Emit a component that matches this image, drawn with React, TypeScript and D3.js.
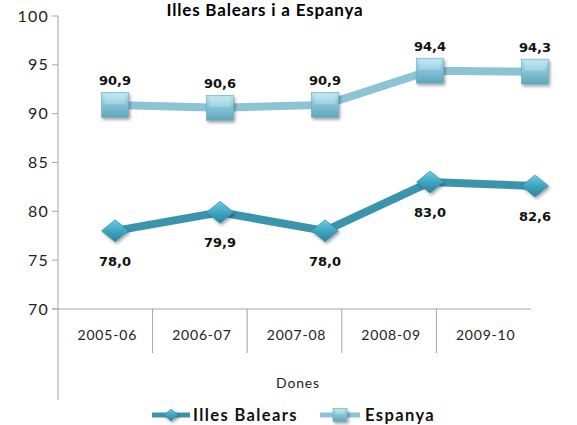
import React from "react";
import * as d3 from "d3";

const categories = ["2005-06", "2006-07", "2007-08", "2008-09", "2009-10"];
const illesBalears = [78.0, 79.9, 78.0, 83.0, 82.6];
const espanya = [90.9, 90.6, 90.9, 94.4, 94.3];
const yTicks = [70, 75, 80, 85, 90, 95, 100];
const title = "Illes Balears i a Espanya";
const xTitle = "Dones";
const seriesNames = ["Illes Balears", "Espanya"];

const W = 577;
const H = 425;
const AX = "#a6a6a6";

const fmt = (v: number) => v.toFixed(1).replace(".", ",");

export default function App() {
  const y = d3.scaleLinear().domain([70, 100]).range([309, 16]);
  const band = d3.scaleBand().domain(categories).range([58, 531]);
  const px = d3.scalePoint().domain(categories).range([115, 535]);

  const line = d3
    .line<number>()
    .x((_, i) => px(categories[i]) as number)
    .y((d) => y(d));

  const diamond = (cx: number, cy: number, key: string, w = 27, h = 22) => (
    <path
      key={key}
      d={`M${cx},${cy - h / 2} L${cx + w / 2},${cy} L${cx},${cy + h / 2} L${cx - w / 2},${cy} Z`}
      fill="url(#gDia)"
      stroke="#2f8aa2"
      strokeWidth={0.6}
      filter="url(#shadow)"
    />
  );
  const square = (cx: number, cy: number, key: string, w = 27, h = 25) => (
    <g key={key} filter="url(#shadow)">
      <rect x={cx - w / 2} y={cy - h / 2} width={w} height={h} fill="url(#gSq)" stroke="#6aa9bd" strokeWidth={0.6} />
      <rect x={cx - w / 2 + 3} y={cy - h / 2 + 2} width={w - 6} height={h / 2 - 3} fill="#ffffff" opacity={0.22} />
    </g>
  );

  return (
    <svg width={W} height={H} style={{ position: "absolute", left: 0, top: 0, background: "#fff" }}>
      <defs>
        <linearGradient id="gDia" x1="0" y1="0" x2="0" y2="1">
          <stop offset="0" stopColor="#6ccbe2" />
          <stop offset="0.5" stopColor="#3fa6c1" />
          <stop offset="1" stopColor="#2b8198" />
        </linearGradient>
        <linearGradient id="gSq" x1="0" y1="0" x2="0" y2="1">
          <stop offset="0" stopColor="#b8e6f2" />
          <stop offset="0.45" stopColor="#86c6d8" />
          <stop offset="1" stopColor="#5fa6bb" />
        </linearGradient>
        <filter id="shadow" x="-40%" y="-40%" width="180%" height="180%">
          <feDropShadow dx="1.5" dy="2" stdDeviation="1.5" floodColor="#000" floodOpacity="0.35" />
        </filter>
      </defs>

      <text x={265} y={16} textAnchor="middle" fontFamily="Lato" fontWeight="bold" fontSize={17} letterSpacing={0.8} fill="#000">
        {title}
      </text>

      {/* y axis */}
      <line x1={58} x2={58} y1={16} y2={400} stroke={AX} strokeWidth={1} />
      {yTicks.map((t) => (
        <g key={t}>
          <line x1={52} x2={58} y1={y(t)} y2={y(t)} stroke={AX} />
          <text x={49} y={y(t) + 5.5} textAnchor="end" fontFamily="Lato" fontSize={16} letterSpacing={1.2} fill="#222">
            {t}
          </text>
        </g>
      ))}

      {/* x axis */}
      <line x1={52} x2={531} y1={y(70)} y2={y(70)} stroke={AX} />
      {categories.slice(1).map((c) => (
        <line key={c} x1={band(c)} x2={band(c)} y1={y(70)} y2={353} stroke={AX} />
      ))}
      {categories.map((c) => (
        <text
          key={c}
          x={(band(c) as number) + band.bandwidth() / 2 + 2}
          y={340}
          textAnchor="middle"
          fontFamily="Lato"
          fontSize={14}
          letterSpacing={0.8}
          fill="#222"
        >
          {c}
        </text>
      ))}
      <text x={298} y={388} textAnchor="middle" fontFamily="Lato" fontSize={14} letterSpacing={0.8} fill="#222">
        {xTitle}
      </text>

      {/* lines */}
      <path d={line(espanya) as string} fill="none" stroke="#8cc3d5" strokeWidth={8} />
      <path d={line(illesBalears) as string} fill="none" stroke="#3a95ac" strokeWidth={8} />

      {espanya.map((v, i) => square(px(categories[i]) as number, y(v), "s" + i))}
      {illesBalears.map((v, i) => diamond(px(categories[i]) as number, y(v), "d" + i))}

      {espanya.map((v, i) => (
        <text
          key={"le" + i}
          x={px(categories[i])}
          y={y(v) - 20}
          textAnchor="middle"
          fontFamily="DejaVu Sans"
          fontWeight="bold"
          fontSize={13}
          fill="#111"
        >
          {fmt(v)}
        </text>
      ))}
      {illesBalears.map((v, i) => (
        <text
          key={"lb" + i}
          x={px(categories[i])}
          y={y(v) + 35}
          textAnchor="middle"
          fontFamily="DejaVu Sans"
          fontWeight="bold"
          fontSize={13}
          fill="#111"
        >
          {fmt(v)}
        </text>
      ))}

      {/* legend */}
      <line x1={152} x2={190} y1={415} y2={415} stroke="#3a95ac" strokeWidth={5} />
      {diamond(171, 415, "ld", 14, 12)}
      <text x={193} y={421} fontFamily="Lato" fontWeight="bold" fontSize={16.5} letterSpacing={1.4} fill="#111">
        {seriesNames[0]}
      </text>
      <line x1={320} x2={360} y1={415} y2={415} stroke="#8cc3d5" strokeWidth={5} />
      {square(340, 415, "ls", 14, 13)}
      <text x={365} y={421} fontFamily="Lato" fontWeight="bold" fontSize={16.5} letterSpacing={1.4} fill="#111">
        {seriesNames[1]}
      </text>
    </svg>
  );
}
